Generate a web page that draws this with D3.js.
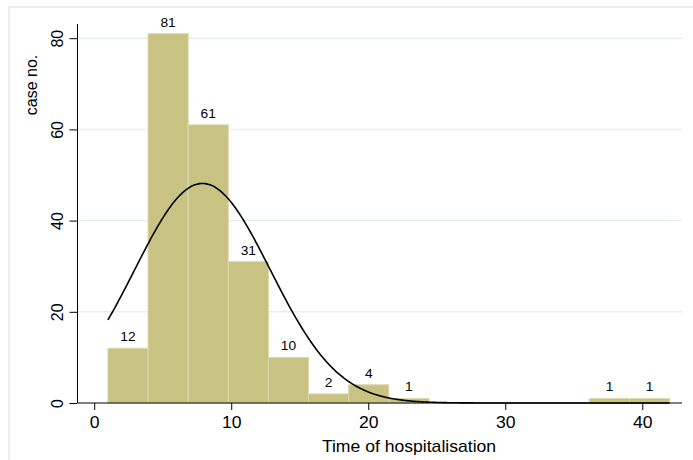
<!DOCTYPE html>
<html>
<head>
<meta charset="utf-8">
<script src="https://cdn.jsdelivr.net/npm/d3@7"></script>
<style>
  body { margin: 0; background: #fff; }
  text { font-family: "Liberation Sans", Arial, sans-serif; fill: #000; }
</style>
</head>
<body>
<div id="chart"></div>
<script>
// histogram bins: 14 bins between min 1 and max 42
const binStart = 1;
const binEnd = 42;
const counts = [12, 81, 61, 31, 10, 2, 4, 1, 0, 0, 0, 0, 1, 1];
const xTicks = [0, 10, 20, 30, 40];
const yTicks = [0, 20, 40, 60, 80];
// normal overlay parameters
const fitMean = 7.9;
const fitSd = 4.95;

const W = 693, H = 460;
const stretch = 1.1; // the picture's text is a bit wider than it is tall
const binW = (binEnd - binStart) / counts.length;
const total = d3.sum(counts);

let svg = d3.select("#chart").append("svg")
  .attr("width", W).attr("height", H);

// outer frame (only top and left visible)
svg.append("path")
  .attr("d", "M9,460 V7 H693")
  .attr("fill", "none")
  .attr("stroke", "#e3eaee")
  .attr("stroke-width", 1.5);

let x = d3.scaleLinear().domain([-1.22, 42.9]).range([77.5, 682]);
let y = d3.scaleLinear().domain([0, 80]).range([403, 38.2]);

// grid
svg.append("g").selectAll("line")
  .data(yTicks.filter(d => d > 0))
  .join("line")
  .attr("x1", 78).attr("x2", 682)
  .attr("y1", d => y(d)).attr("y2", d => y(d))
  .attr("stroke", "#e6eef1")
  .attr("stroke-width", 1.5);

let bins = counts.map((c, i) => ({ x0: binStart + i * binW, x1: binStart + (i + 1) * binW, n: c }));

svg.append("g").selectAll("rect")
  .data(bins.filter(b => b.n > 0))
  .join("rect")
  .attr("x", b => x(b.x0))
  .attr("width", b => x(b.x1) - x(b.x0))
  .attr("y", b => y(b.n))
  .attr("height", b => y(0) - y(b.n))
  .attr("fill", "#c9c383")
  .attr("stroke", "#dcd8a9")
  .attr("stroke-width", 1);

svg.append("g").selectAll("text")
  .data(bins.filter(b => b.n > 0))
  .join("text")
  .attr("transform", b => `translate(${x((b.x0 + b.x1) / 2)},${y(b.n) - 7}) scale(${stretch},1)`)
  .attr("text-anchor", "middle")
  .style("font-size", "12.5px")
  .text(b => b.n);

// normal density scaled to frequency
let scaleN = total * binW;
let pts = d3.range(binStart, binEnd + 0.001, 0.1).map(v =>
  [v, scaleN / (fitSd * Math.sqrt(2 * Math.PI)) * Math.exp(-0.5 * ((v - fitMean) / fitSd) ** 2)]);
svg.append("path")
  .datum(pts)
  .attr("fill", "none")
  .attr("stroke", "#000")
  .attr("stroke-width", 1.6)
  .attr("d", d3.line().x(d => x(d[0])).y(d => y(d[1])).curve(d3.curveBasis));

// axes
let xAxis = svg.append("g")
  .attr("transform", `translate(0,${y(0)})`)
  .call(d3.axisBottom(x).tickValues(xTicks).tickSize(7).tickSizeOuter(0));
xAxis.select(".domain").attr("d", `M78,0H682`).attr("stroke", "#000");
xAxis.selectAll(".tick line").attr("stroke", "#000");
xAxis.selectAll(".tick text")
  .attr("y", 0).attr("dy", 0)
  .attr("transform", `translate(0,25) scale(${stretch},1)`)
  .style("font-size", "16px");

let yAxis = svg.append("g")
  .attr("transform", "translate(77.5,0)")
  .call(d3.axisLeft(y).tickValues(yTicks).tickSize(8).tickSizeOuter(0));
yAxis.select(".domain").attr("d", `M0,403V24`).attr("stroke", "#000");
yAxis.selectAll(".tick text")
  .attr("x", 0).attr("dy", 0)
  .attr("transform", "translate(-15,0) rotate(-90)")
  .attr("text-anchor", "middle")
  .style("font-size", "16px");

svg.append("text")
  .attr("transform", `translate(409,452) scale(${stretch},1)`)
  .attr("text-anchor", "middle")
  .style("font-size", "16px")
  .text("Time of hospitalisation");

svg.append("text")
  .attr("transform", "translate(37,85) rotate(-90)")
  .attr("text-anchor", "middle")
  .style("font-size", "16px")
  .text("case no.");
</script>
</body>
</html>
